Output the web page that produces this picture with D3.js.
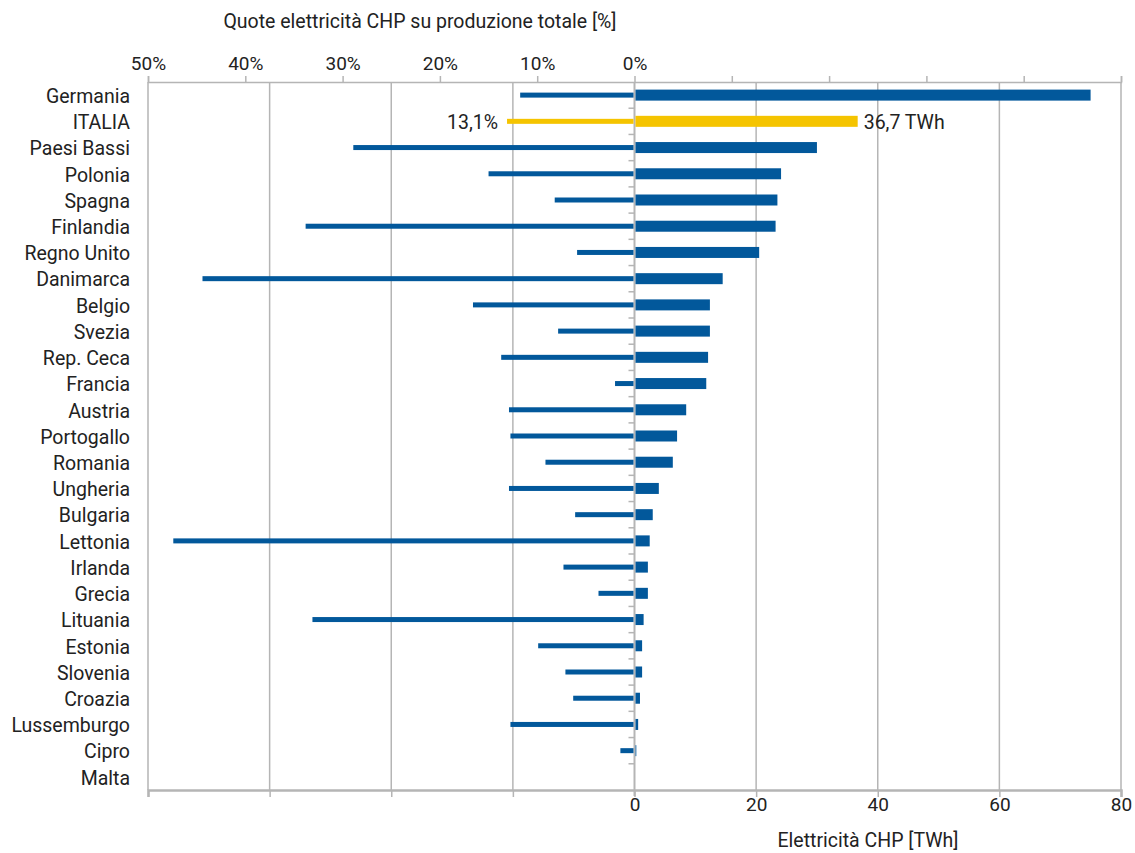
<!DOCTYPE html>
<html><head><meta charset="utf-8">
<script src="https://cdn.jsdelivr.net/npm/d3@7"></script>
<style>
body{margin:0;background:#fff;}
text{font-family:Roboto,"Noto Sans",sans-serif;fill:#222;}
</style></head><body>
<svg id="c" width="1135" height="853"></svg>
<script>
const countries = ["Germania","ITALIA","Paesi Bassi","Polonia","Spagna","Finlandia","Regno Unito","Danimarca","Belgio","Svezia","Rep. Ceca","Francia","Austria","Portogallo","Romania","Ungheria","Bulgaria","Lettonia","Irlanda","Grecia","Lituania","Estonia","Slovenia","Croazia","Lussemburgo","Cipro","Malta"];
const chpTWh = [75.0,36.7,30.0,24.1,23.5,23.2,20.5,14.5,12.4,12.4,12.1,11.8,8.5,7.0,6.3,4.0,3.0,2.5,2.2,2.2,1.5,1.25,1.25,0.9,0.6,0.3,0];
const chpShare = [11.75,13.1,28.9,15.0,8.2,33.8,5.9,44.4,16.6,7.85,13.7,2.0,12.9,12.75,9.15,12.9,6.1,47.4,7.3,3.7,33.1,9.9,7.1,6.3,12.75,1.45,0];
const twhTicks = [-80,-60,-40,-20,0,20,40,60,80];
const pctTicks = [50,40,30,20,10,0,-10,-20,-30,-40,-50];
const highlight = "ITALIA";
const shareTitle = "Quote elettricità CHP su produzione totale [%]";
const twhTitle = "Elettricità CHP [TWh]";

const svg = d3.select("#c");
const L = 148, R = 1121, T = 82, B = 790;
const blue = "#02589b", yellow = "#f5c400", grid = "#b5b5b5";
const fs = 19.5;

const xT = d3.scaleLinear().domain([-80,80]).range([L,R]);
const xP = d3.scaleLinear().domain([50,-50]).range([L,R]);
const y = d3.scaleBand().domain(countries).range([T,B]).padding(0);

// gridlines
svg.append("g").selectAll("line").data(twhTicks.filter(d=>d!==0)).join("line")
  .attr("x1",d=>xT(d)).attr("x2",d=>xT(d)).attr("y1",T).attr("y2",B)
  .attr("stroke",grid).attr("stroke-width",1.5);

// top axis
const topAx = svg.append("g").attr("transform",`translate(0,${T})`)
  .call(d3.axisTop(xP).tickValues(pctTicks).tickSize(6).tickFormat(d=>d>=0?d+"%":""));
topAx.select(".domain").attr("stroke",grid).attr("stroke-width",1.5);
topAx.selectAll(".tick line").attr("stroke",grid).attr("stroke-width",1.5);
topAx.selectAll(".tick text").attr("font-size",19).attr("dy","-3").attr("fill","#222");

// bottom axis
const botAx = svg.append("g").attr("transform",`translate(0,${B})`)
  .call(d3.axisBottom(xT).tickValues(twhTicks).tickSize(7).tickFormat(d=>d>=0?d:""));
botAx.select(".domain").attr("stroke",grid).attr("stroke-width",2.5);
botAx.selectAll(".tick line").attr("stroke",grid).attr("stroke-width",1.5);
botAx.selectAll(".tick text").attr("font-size",19).attr("dy","11").attr("fill","#222");

// category axis at zero
const mid = svg.append("g").attr("transform",`translate(${xT(0)},0)`);
mid.append("line").attr("x1",0).attr("x2",0).attr("y1",T).attr("y2",B+6).attr("stroke",grid).attr("stroke-width",2);
mid.selectAll("line.tk").data(countries.slice(1)).join("line").attr("class","tk")
  .attr("x1",-6).attr("x2",0).attr("y1",d=>y(d)).attr("y2",d=>y(d))
  .attr("stroke",grid).attr("stroke-width",1.5);

// labels
svg.append("g").selectAll("text").data(countries).join("text")
  .attr("x",130).attr("y",d=>y(d)+y.bandwidth()/2+1).attr("dy","0.35em")
  .attr("text-anchor","end").attr("font-size",fs).text(d=>d);

// TWh bars
const bh = 11;
svg.append("g").selectAll("rect").data(countries).join("rect")
  .attr("x",xT(0)+1).attr("y",d=>y(d)+y.bandwidth()/2-bh/2)
  .attr("width",(d,i)=>Math.max(0,xT(chpTWh[i])-xT(0)-1)).attr("height",bh)
  .attr("fill",d=>d===highlight?yellow:blue);

// share bars
const sh = 5;
svg.append("g").selectAll("rect").data(countries).join("rect")
  .attr("x",(d,i)=>xP(chpShare[i])).attr("y",d=>y(d)+y.bandwidth()/2-sh/2)
  .attr("width",(d,i)=>Math.max(0,xP(0)-xP(chpShare[i])-1)).attr("height",sh)
  .attr("fill",d=>d===highlight?yellow:blue);

// annotations
const hi = countries.indexOf(highlight);
svg.append("text").attr("x",xP(chpShare[hi])-9).attr("y",y(highlight)+y.bandwidth()/2+1).attr("dy","0.35em")
  .attr("text-anchor","end").attr("font-size",fs).text(String(chpShare[hi]).replace(".",",")+"%");
svg.append("text").attr("x",xT(chpTWh[hi])+6).attr("y",y(highlight)+y.bandwidth()/2+1).attr("dy","0.35em")
  .attr("font-size",fs).text(String(chpTWh[hi]).replace(".",",")+" TWh");

// titles
svg.append("text").attr("x",420).attr("y",28).attr("text-anchor","middle").attr("font-size",fs).text(shareTitle);
svg.append("text").attr("x",868).attr("y",847).attr("text-anchor","middle").attr("font-size",fs).text(twhTitle);
</script></body></html>
